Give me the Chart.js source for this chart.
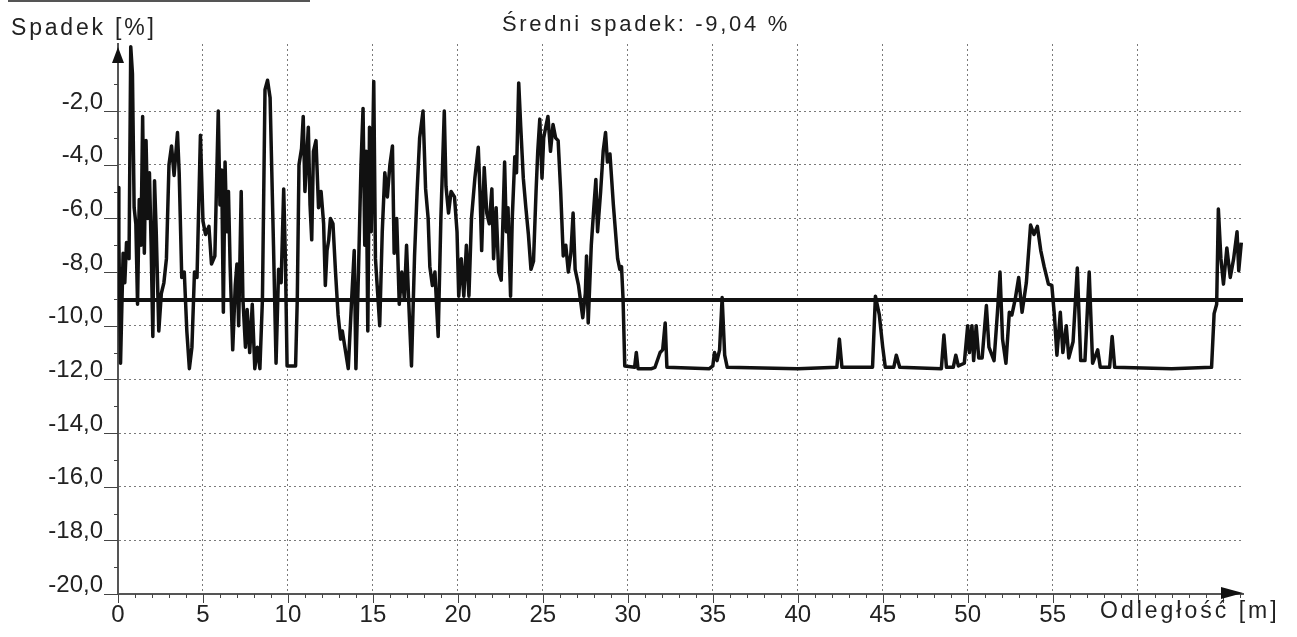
<!DOCTYPE html>
<html>
<head>
<meta charset="utf-8">
<title>Spadek</title>
<script src="https://cdn.jsdelivr.net/npm/chart.js@4.4.0/dist/chart.umd.min.js"></script>
<style>
  html, body { margin: 0; padding: 0; background: #fff; }
</style>
</head>
<body>
<canvas id="spadek" width="1297" height="637"></canvas>
<script>
// odległość [m]
var distances = [
  0.00, 0.05, 0.15, 0.30, 0.40, 0.50, 0.65, 0.75, 0.85, 0.95,
  1.05, 1.15, 1.25, 1.35, 1.45, 1.55, 1.65, 1.75, 1.85, 1.95,
  2.05, 2.15, 2.25, 2.40, 2.55, 2.70, 2.85, 3.00, 3.15, 3.30,
  3.50, 3.60, 3.75, 3.90, 4.05, 4.20, 4.35, 4.50, 4.65, 4.85,
  5.00, 5.15, 5.35, 5.50, 5.70, 5.90, 6.00, 6.10, 6.20, 6.30,
  6.40, 6.50, 6.60, 6.75, 6.90, 7.00, 7.10, 7.25, 7.35, 7.50,
  7.60, 7.75, 7.90, 8.05, 8.20, 8.35, 8.50, 8.65, 8.80, 8.95,
  9.15, 9.30, 9.45, 9.60, 9.75, 9.85, 9.95, 10.45, 10.55, 10.65,
  10.80, 10.90, 11.00, 11.20, 11.30, 11.40, 11.50, 11.65, 11.80, 11.95,
  12.10, 12.20, 12.30, 12.40, 12.50, 12.65, 12.80, 12.95, 13.10, 13.20,
  13.40, 13.55, 13.75, 13.90, 14.00, 14.15, 14.30, 14.42, 14.52, 14.60,
  14.70, 14.80, 14.90, 15.05, 15.15, 15.25, 15.40, 15.55, 15.70, 15.85,
  16.00, 16.15, 16.25, 16.40, 16.55, 16.70, 16.85, 16.98, 17.10, 17.27,
  17.45, 17.60, 17.75, 17.95, 18.10, 18.25, 18.35, 18.50, 18.65, 18.84,
  19.00, 19.20, 19.30, 19.45, 19.60, 19.80, 19.95, 20.05, 20.20, 20.35,
  20.50, 20.65, 20.80, 21.00, 21.20, 21.30, 21.40, 21.55, 21.70, 21.85,
  22.00, 22.10, 22.25, 22.40, 22.55, 22.75, 22.85, 22.95, 23.10, 23.20,
  23.35, 23.45, 23.58, 23.70, 23.85, 24.00, 24.15, 24.30, 24.45, 24.60,
  24.70, 24.82, 24.95, 25.05, 25.20, 25.30, 25.45, 25.60, 25.75, 25.90,
  26.05, 26.20, 26.35, 26.50, 26.65, 26.78, 26.90, 27.10, 27.35, 27.50,
  27.57, 27.67, 27.85, 28.00, 28.12, 28.22, 28.40, 28.55, 28.69, 28.80,
  28.95, 29.15, 29.40, 29.53, 29.63, 29.72, 29.82, 30.40, 30.50, 30.60,
  31.40, 31.60, 31.90, 32.05, 32.20, 32.30, 34.80, 35.00, 35.10, 35.25,
  35.40, 35.55,
  35.70, 35.85, 40.00, 42.30, 42.45, 42.60, 44.40, 44.57, 44.80, 45.00,
  45.15, 45.65, 45.80, 46.00, 48.45, 48.60, 48.75, 49.15, 49.30, 49.45,
  49.80, 50.00, 50.10, 50.25, 50.35, 50.50, 50.65, 50.85, 51.10, 51.25,
  51.55, 51.75, 51.90, 52.05, 52.25, 52.45, 52.60, 52.80, 53.00, 53.20,
  53.45, 53.70, 53.90, 54.10, 54.30, 54.50, 54.75, 54.95, 55.10, 55.25,
  55.45, 55.60, 55.80, 55.95, 56.20, 56.45, 56.65, 56.90, 57.15, 57.35,
  57.65, 57.80, 58.35, 58.50, 58.65, 62.00, 64.35, 64.50, 64.65, 64.75,
  64.90, 65.05, 65.25, 65.45, 65.65, 65.85, 65.95, 66.10
];

// spadek [%]
var slopes = [
  -4.85, -6.8, -11.4, -7.3, -8.4, -6.9, -7.5, 0.4, -0.6, -5.6,
  -6.2, -9.2, -5.3, -7.0, -2.2, -7.3, -3.1, -6.0, -4.3, -7.0,
  -10.4, -4.6, -6.5, -10.2, -8.8, -8.4, -7.5, -4.0, -3.3, -4.4,
  -2.8, -4.3, -8.2, -8.0, -10.2, -11.6, -10.8, -8.0, -8.2, -2.9,
  -6.1, -6.6, -6.3, -7.7, -7.4, -2.0, -5.5, -4.2, -9.5, -3.9,
  -6.5, -5.0, -7.8, -10.9, -8.5, -7.7, -10.0, -5.0, -9.0, -10.8,
  -9.4, -11.0, -9.2, -11.6, -10.8, -11.6, -9.0, -1.2, -0.85, -1.5,
  -7.0, -11.4, -7.9, -8.4, -4.9, -7.5, -11.5, -11.5, -9.0, -4.0,
  -3.4, -2.2, -5.0, -2.6, -5.5, -6.8, -3.5, -3.1, -5.6, -5.0,
  -6.2, -8.5, -7.2, -6.8, -6.0, -6.2, -8.0, -9.6, -10.5, -10.2,
  -11.0, -11.6, -9.0, -7.2, -11.6, -8.0, -4.0, -1.9, -7.0, -3.5,
  -10.2, -2.6, -6.5, -0.9, -7.5, -8.5, -10.0, -6.5, -4.3, -5.2,
  -4.0, -3.3, -7.3, -6.0, -9.2, -8.0, -9.0, -7.0, -9.0, -11.5,
  -7.4, -5.0, -3.0, -2.0, -4.9, -6.0, -7.8, -8.5, -8.0, -10.4,
  -6.0, -2.0, -4.8, -5.8, -5.0, -5.2, -6.5, -8.9, -7.5, -8.9,
  -7.0, -8.9, -6.0, -4.5, -3.35, -5.0, -7.2, -4.1, -5.8, -6.2,
  -4.9, -7.5, -5.6, -8.0, -8.3, -3.9, -6.5, -5.6, -8.9, -6.0,
  -3.7, -4.3, -0.95, -2.6, -4.5, -5.6, -6.6, -7.9, -7.6, -5.0,
  -3.5, -2.3, -4.5, -3.0, -2.5, -2.2, -3.5, -2.5, -3.0, -3.1,
  -5.0, -7.4, -7.0, -8.0, -7.3, -5.8, -7.9, -8.5, -9.7, -8.8,
  -7.4, -9.9, -7.0, -5.6, -4.55, -6.5, -5.0, -3.5, -2.8, -3.9,
  -3.6, -5.5, -7.5, -7.9, -7.8, -9.0, -11.5, -11.55, -11.0, -11.6,
  -11.6, -11.55, -11.0, -10.9, -9.9, -11.55, -11.6, -11.5, -11.0, -11.3,
  -10.9, -8.95,
  -11.1, -11.55, -11.6, -11.55, -10.5, -11.55, -11.55, -8.9, -9.6, -10.8,
  -11.55, -11.55, -11.1, -11.55, -11.6, -10.35, -11.55, -11.55, -11.1, -11.5,
  -11.4, -10.0, -11.0, -10.0, -11.3, -10.0, -11.2, -11.2, -9.25, -10.8,
  -11.3, -9.5, -8.0, -10.5, -11.4, -9.5, -9.6, -9.0, -8.2, -9.5,
  -8.4, -6.25, -6.6, -6.3, -7.2, -7.8, -8.45, -8.5, -9.6, -11.1,
  -9.5, -11.0, -10.0, -11.2, -10.6, -7.85, -11.3, -11.3, -8.0, -11.4,
  -10.9, -11.55, -11.55, -10.4, -11.55, -11.6, -11.55, -9.55, -9.2, -5.65,
  -7.5, -8.45, -7.1, -8.2, -7.5, -6.5, -7.95, -6.9
];

var meanSlope = -9.04;
var xMax = 66.2;
var yMin = -20;
var yMax = 0.5;
var xLabelValues = [0, 5, 10, 15, 20, 25, 30, 35, 40, 45, 50, 55];
var xGridValues = [5, 10, 15, 20, 25, 30, 35, 40, 45, 50, 55, 60];
var yLabelValues = [-20, -18, -16, -14, -12, -10, -8, -6, -4, -2];
var yGridValues = [-18, -16, -14, -12, -10, -8, -6, -4, -2];
var titleText = 'Średni spadek: -9,04 %';
var yTitle = 'Spadek [%]';
var xTitle = 'Odległość [m]';

var points = distances.map(function (d, i) { return { x: d, y: slopes[i] }; });
var meanPoints = [{ x: 0, y: meanSlope }, { x: xMax, y: meanSlope }];

function intRange(a, b) {
  var out = [];
  for (var v = a; v <= b; v++) out.push({ value: v });
  return out;
}

// arrows, minor ticks and titles
var axisDecor = {
  id: 'axisDecor',
  afterDraw: function (chart) {
    var c = chart.ctx, a = chart.chartArea;
    var xs = chart.scales.x, ys = chart.scales.y;
    c.save();
    c.strokeStyle = '#444';
    c.lineWidth = 1;
    ys.ticks.forEach(function (t) {
      if (t.value >= 0) return;
      var py = Math.round(ys.getPixelForValue(t.value)) + 0.5;
      var len = yLabelValues.indexOf(t.value) >= 0 ? 14 : 4;
      c.beginPath(); c.moveTo(a.left - len, py); c.lineTo(a.left, py); c.stroke();
    });
    xs.ticks.forEach(function (t) {
      var px = Math.round(xs.getPixelForValue(t.value)) + 0.5;
      var len = t.value % 5 === 0 ? 9 : 4;
      c.beginPath(); c.moveTo(px, a.bottom); c.lineTo(px, a.bottom + len); c.stroke();
    });

    c.fillStyle = '#111';
    c.beginPath();
    c.moveTo(a.left, a.top + 3);
    c.lineTo(a.left - 6, a.top + 19);
    c.lineTo(a.left + 6, a.top + 19);
    c.closePath(); c.fill();
    c.beginPath();
    c.moveTo(a.right, a.bottom - 1);
    c.lineTo(a.right - 22, a.bottom - 7);
    c.lineTo(a.right - 22, a.bottom + 5);
    c.closePath(); c.fill();

    c.fillStyle = '#555';
    c.fillRect(8, 0, 302, 2);

    c.fillStyle = '#222';
    c.textBaseline = 'alphabetic';
    c.font = '22px "Liberation Sans", Arial, sans-serif';
    c.letterSpacing = '2.7px';
    c.textAlign = 'center';
    c.fillText(titleText, 646, 31);
    c.font = '23px "Liberation Sans", Arial, sans-serif';
    c.letterSpacing = '2.8px';
    c.textAlign = 'left';
    c.fillText(yTitle, 11, 35);
    c.letterSpacing = '3px';
    c.fillText(xTitle, 1100, 618);
    c.restore();
  }
};

var ctx = document.getElementById('spadek');
var myChart = new Chart(ctx, {
  type: 'line',
  data: {
    datasets: [
      {
        data: points,
        borderColor: '#111',
        borderWidth: 3.5,
        borderJoinStyle: 'round',
        pointRadius: 0,
        tension: 0,
        fill: false
      },
      {
        data: meanPoints,
        borderColor: '#111',
        borderWidth: 4,
        pointRadius: 0,
        fill: false
      }
    ]
  },
  options: {
    responsive: false,
    animation: false,
    layout: { padding: { top: 44, right: 54, left: 0, bottom: 0 } },
    plugins: {
      legend: { display: false },
      tooltip: { enabled: false }
    },
    scales: {
      x: {
        type: 'linear',
        min: 0,
        max: xMax,
        afterFit: function (s) { s.height = 43; },
        afterBuildTicks: function (s) { s.ticks = intRange(0, 66); },
        ticks: {
          autoSkip: false,
          maxRotation: 0,
          minRotation: 0,
          padding: 7,
          color: '#222',
          font: { family: '"Liberation Sans Narrow", "Liberation Sans", Arial, sans-serif', size: 24 },
          callback: function (v) { return xLabelValues.indexOf(v) >= 0 ? String(v) : ''; }
        },
        grid: {
          drawTicks: false,
          lineWidth: 1,
          color: function (c) {
            return c.tick && xGridValues.indexOf(c.tick.value) >= 0 ? '#7a7a7a' : 'rgba(0,0,0,0)';
          }
        },
        border: { color: '#555', width: 2, dash: [2, 3] }
      },
      y: {
        type: 'linear',
        min: yMin,
        max: yMax,
        afterFit: function (s) { s.width = 118; },
        afterBuildTicks: function (s) { s.ticks = intRange(-20, 0); },
        ticks: {
          autoSkip: false,
          padding: 15,
          labelOffset: -9,
          color: '#222',
          font: { family: '"Liberation Sans", Arial, sans-serif', size: 24 },
          callback: function (v) {
            return yLabelValues.indexOf(v) >= 0 ? v.toFixed(1).replace('.', ',') : '';
          }
        },
        grid: {
          drawTicks: false,
          lineWidth: 1,
          color: function (c) {
            return c.tick && yGridValues.indexOf(c.tick.value) >= 0 ? '#7a7a7a' : 'rgba(0,0,0,0)';
          }
        },
        border: { color: '#555', width: 2, dash: [2, 3] }
      }
    }
  },
  plugins: [axisDecor]
});
</script>
</body>
</html>
